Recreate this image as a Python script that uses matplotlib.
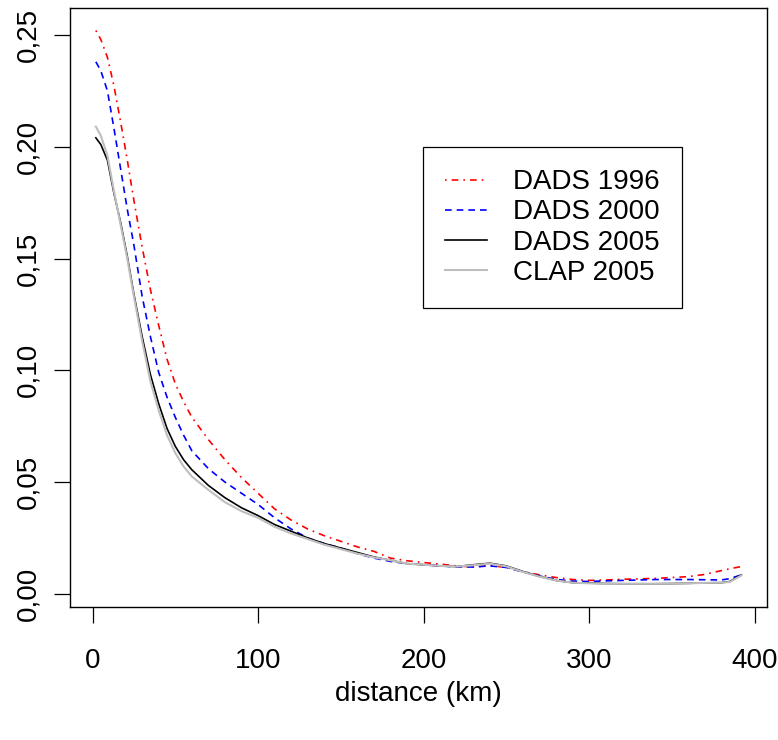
import matplotlib
matplotlib.use("Agg")
import matplotlib.pyplot as plt

plt.rcParams['font.family'] = ['Liberation Sans', 'DejaVu Sans']

# distance grid (km) and density estimates
dist = [2, 5, 9, 13, 17, 21, 25, 30, 35, 40, 45, 50, 55, 60, 70, 80, 90, 100,
        110, 120, 130, 140, 150, 160, 170, 180, 190, 200, 210, 220, 230, 240,
        250, 260, 270, 280, 290, 300, 310, 320, 340, 360, 370, 380, 385, 392]

dads1996 = [0.252, 0.248, 0.240, 0.227, 0.211, 0.194, 0.176, 0.155, 0.136, 0.120,
            0.105, 0.094, 0.086, 0.079, 0.069, 0.060, 0.052, 0.045, 0.038, 0.033,
            0.029, 0.026, 0.0235, 0.021, 0.019, 0.016, 0.0148, 0.014, 0.0133, 0.0125,
            0.012, 0.0127, 0.0118, 0.0099, 0.0085, 0.0073, 0.0064, 0.006, 0.0062, 0.0065,
            0.0069, 0.0077, 0.0087, 0.0104, 0.0112, 0.0122]

dads2000 = [0.238, 0.234, 0.225, 0.208, 0.190, 0.172, 0.156, 0.133, 0.115, 0.099,
            0.088, 0.079, 0.071, 0.064, 0.056, 0.050, 0.045, 0.040, 0.034, 0.029,
            0.025, 0.0225, 0.0205, 0.018, 0.016, 0.0145, 0.0135, 0.013, 0.0125, 0.012,
            0.012, 0.0125, 0.0118, 0.0098, 0.008, 0.0065, 0.0057, 0.0055, 0.0058, 0.006,
            0.0064, 0.0064, 0.0063, 0.0062, 0.0068, 0.0085]

dads2005 = [0.204, 0.201, 0.194, 0.179, 0.166, 0.151, 0.134, 0.115, 0.098, 0.085,
            0.074, 0.066, 0.060, 0.0555, 0.0485, 0.043, 0.0385, 0.035, 0.031, 0.028,
            0.025, 0.0225, 0.0205, 0.0185, 0.0165, 0.015, 0.0135, 0.013, 0.0125, 0.0122,
            0.013, 0.0137, 0.0125, 0.010, 0.0078, 0.006, 0.005, 0.0048, 0.0046, 0.0045,
            0.0045, 0.0047, 0.0049, 0.005, 0.0055, 0.0085]

clap2005 = [0.209, 0.205, 0.196, 0.180, 0.165, 0.150, 0.133, 0.113, 0.095, 0.082,
            0.071, 0.063, 0.057, 0.0525, 0.0465, 0.041, 0.037, 0.034, 0.030, 0.027,
            0.0245, 0.022, 0.020, 0.018, 0.0163, 0.015, 0.0135, 0.013, 0.0125, 0.0122,
            0.0128, 0.0135, 0.0123, 0.0098, 0.0077, 0.006, 0.005, 0.0047, 0.0045, 0.0045,
            0.0045, 0.0047, 0.0049, 0.005, 0.0053, 0.0082]

xticks = [0, 100, 200, 300, 400]
yticks = [0.0, 0.05, 0.10, 0.15, 0.20, 0.25]
ytick_labels = ['0,00', '0,05', '0,10', '0,15', '0,20', '0,25']

fig = plt.figure(figsize=(7.78, 7.4), dpi=100)
ax = fig.add_axes([0.090, 0.180, 0.896, 0.809])

lw = 1.2
ax.plot(dist, dads1996, color='red', lw=lw, dashes=(1, 3, 4, 3), label='DADS 1996')
ax.plot(dist, dads2000, color='blue', lw=lw, dashes=(4, 3), label='DADS 2000')
ax.plot(dist, dads2005, color='black', lw=lw, label='DADS 2005')
ax.plot(dist, clap2005, color='#BEBEBE', lw=1.5, label='CLAP 2005')

ax.set_xlim(-13.6, 407.6)
ax.set_ylim(-0.0058, 0.262)
ax.set_xticks(xticks)
ax.set_yticks(yticks)
ax.set_yticklabels(ytick_labels, rotation=90, va='center')
ax.tick_params(axis='both', direction='out', length=11.5, width=0.9, labelsize=20)
ax.tick_params(axis='x', pad=18)
ax.tick_params(axis='y', pad=9)
for s in ax.spines.values():
    s.set_linewidth(1.0)
    s.set_color('black')

ax.set_xlabel('distance (km)', fontsize=20, labelpad=5)

leg = ax.legend(loc='upper right', bbox_to_anchor=(0.878, 0.768), fontsize=20,
                fancybox=False, framealpha=1, edgecolor='black',
                handlelength=1.5, handletextpad=0.95, borderpad=0.8,
                labelspacing=0.15, borderaxespad=0)
leg.get_frame().set_linewidth(0.9)

fig.savefig('out.png', dpi=100)
